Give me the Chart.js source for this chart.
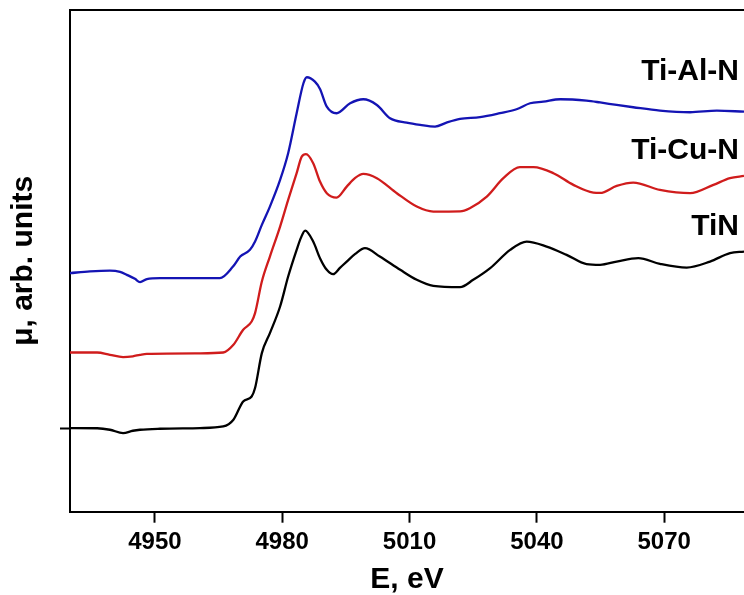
<!DOCTYPE html>
<html>
<head>
<meta charset="utf-8">
<script src="https://cdn.jsdelivr.net/npm/chart.js@4/dist/chart.umd.min.js"></script>
<style>
  html, body { margin: 0; padding: 0; background: #fff; }
  #wrap { width: 744px; height: 595px; }
</style>
</head>
<body>
<div id="wrap"><canvas id="xanes" width="744" height="595"></canvas></div>
<script>
// --- data (E in eV, mu in arb. units incl. vertical offset) ---
const tinEnergy = [4930, 4936.4, 4939.4, 4942.5, 4944.8, 4946.5, 4951.2, 4960.6, 4966.1, 4968.5,
  4970.8, 4972.8, 4973.6, 4975.2, 4977.1, 4979.5, 4981.4, 4983.4, 4984.4, 4985.4,
  4987.3, 4988.9, 4990.5, 4992.0, 4993.6, 4995.2, 4997.2, 4999.5, 5003.0, 5007.8,
  5011.7, 5015.6, 5021.9, 5025.0, 5029.0, 5033.7, 5037.6, 5042.3, 5047.0, 5051.7,
  5054.9, 5058.8, 5063.9, 5069.0, 5075.3, 5080.8, 5085.5, 5088.8];
const tinMu = [0.007, 0.005, -0.01, -0.043, -0.02, -0.01, 0, 0.007, 0.023, 0.09,
  0.273, 0.323, 0.407, 0.757, 0.957, 1.223, 1.523, 1.79, 1.91, 1.983,
  1.873, 1.707, 1.59, 1.547, 1.61, 1.673, 1.75, 1.807, 1.723, 1.59,
  1.49, 1.43, 1.417, 1.49, 1.607, 1.79, 1.873, 1.823, 1.74, 1.647,
  1.64, 1.673, 1.707, 1.65, 1.613, 1.673, 1.757, 1.773];

const ticuEnergy = [4930, 4936.4, 4939.4, 4942.5, 4944.8, 4946.5, 4948.1, 4960.6, 4966.1, 4968.5,
  4970.8, 4972.8, 4973.6, 4975.2, 4977.1, 4979.5, 4981.4, 4983.4, 4984.6, 4985.6,
  4987.3, 4988.9, 4990.5, 4992.8, 4995.2, 4997.2, 4999.1, 5002.3, 5007.0, 5011.7,
  5015.6, 5021.9, 5024.2, 5028.2, 5032.1, 5036.0, 5039.2, 5043.9, 5048.6, 5053.3,
  5054.9, 5058.8, 5062.7, 5069.0, 5076.1, 5081.6, 5085.5, 5088.8];
const ticuMu = [0.763, 0.763, 0.74, 0.717, 0.725, 0.74, 0.75, 0.755, 0.763, 0.84,
  0.99, 1.073, 1.157, 1.473, 1.723, 2.023, 2.29, 2.557, 2.723, 2.747,
  2.657, 2.473, 2.357, 2.313, 2.423, 2.51, 2.55, 2.507, 2.357, 2.223,
  2.173, 2.175, 2.207, 2.323, 2.507, 2.617, 2.617, 2.557, 2.44, 2.363,
  2.36, 2.43, 2.463, 2.39, 2.357, 2.44, 2.507, 2.53];

const tialEnergy = [4930, 4934.7, 4939.4, 4941.8, 4943.4, 4945.3, 4946.5, 4948.1, 4951.2, 4960.6,
  4965.3, 4968.4, 4970.1, 4972.4, 4973.6, 4975.2, 4977.1, 4979.5, 4981.4, 4983.4,
  4985.0, 4985.8, 4987.7, 4988.9, 4990.5, 4992.8, 4996.0, 4999.1, 5002.3, 5005.4,
  5009.3, 5012.5, 5016.0, 5018.7, 5021.9, 5026.6, 5031.3, 5035.2, 5038.4, 5041.5,
  5045.5, 5051.7, 5054.9, 5058.8, 5062.7, 5069.0, 5076.1, 5082.4, 5088.8];
const tialMu = [1.557, 1.575, 1.583, 1.57, 1.54, 1.5, 1.467, 1.497, 1.507, 1.507,
  1.507, 1.623, 1.723, 1.79, 1.873, 2.04, 2.223, 2.49, 2.757, 3.157,
  3.457, 3.517, 3.473, 3.4, 3.223, 3.157, 3.257, 3.297, 3.24, 3.107,
  3.063, 3.04, 3.023, 3.063, 3.1, 3.117, 3.157, 3.197, 3.257, 3.273,
  3.297, 3.283, 3.265, 3.24, 3.217, 3.183, 3.167, 3.183, 3.173];

const xTicks = [4950, 4980, 5010, 5040, 5070];
const yTicks = [0];
const seriesNames = ['Ti-Al-N', 'Ti-Cu-N', 'TiN'];
const labelLevels = [3.49, 2.70, 1.94];   // where the names sit (mu units)

const FONT = '"Liberation Sans", Arial, sans-serif';

function pts(xs, ys) {
  return xs.map((x, i) => ({ x: x, y: ys[i] }));
}

// names drawn at the right end of each curve
const seriesLabels = {
  id: 'seriesLabels',
  afterDatasetsDraw(chart) {
    const { ctx, chartArea, scales } = chart;
    ctx.save();
    ctx.font = 'bold 30px ' + FONT;
    ctx.fillStyle = '#000';
    ctx.textAlign = 'right';
    ctx.textBaseline = 'alphabetic';
    seriesNames.forEach((name, i) => {
      ctx.fillText(name, chartArea.right - 5, scales.y.getPixelForValue(labelLevels[i]));
    });
    ctx.restore();
  }
};

const lineStyle = { borderWidth: 2.3, pointRadius: 0, cubicInterpolationMode: 'monotone', fill: false };

new Chart(document.getElementById('xanes'), {
  type: 'line',
  data: {
    datasets: [
      { label: 'TiN', data: pts(tinEnergy, tinMu), borderColor: '#000000', ...lineStyle },
      { label: 'Ti-Cu-N', data: pts(ticuEnergy, ticuMu), borderColor: '#d01c1c', ...lineStyle },
      { label: 'Ti-Al-N', data: pts(tialEnergy, tialMu), borderColor: '#1414b4', ...lineStyle }
    ]
  },
  options: {
    responsive: false,
    animation: false,
    devicePixelRatio: 1,
    layout: { padding: { left: 0, right: 0, top: 10, bottom: 0 } },
    plugins: { legend: { display: false }, tooltip: { enabled: false } },
    scales: {
      x: {
        type: 'linear',
        position: 'bottom',
        min: 4930,
        max: 5088.8,
        afterBuildTicks: s => { s.ticks = xTicks.map(v => ({ value: v })); },
        ticks: {
          color: '#000', padding: 5,
          font: { family: FONT, size: 24, weight: 'bold' },
          callback: v => String(v)
        },
        grid: { display: true, drawOnChartArea: false, drawTicks: true, tickLength: 11, tickWidth: 2, tickColor: '#000' },
        border: { display: true, color: '#000', width: 2 },
        title: {
          display: true, text: 'E, eV', color: '#000',
          font: { family: FONT, size: 30, weight: 'bold', lineHeight: 1 },
          padding: { top: 3.5, bottom: 0 }
        }
      },
      x2: {
        type: 'linear',
        position: 'top',
        min: 4930,
        max: 5088.8,
        ticks: { display: false },
        grid: { display: true, drawOnChartArea: false, drawTicks: false },
        border: { display: true, color: '#000', width: 2 }
      },
      y: {
        type: 'linear',
        min: -0.83,
        max: 4.19,
        afterBuildTicks: s => { s.ticks = yTicks.map(v => ({ value: v })); },
        ticks: { display: false },
        grid: { display: true, drawOnChartArea: false, drawTicks: true, tickLength: 10, tickWidth: 2, tickColor: '#000' },
        border: { display: true, color: '#000', width: 2 },
        title: {
          display: true, text: 'μ, arb. units', color: '#000',
          font: { family: FONT, size: 30, weight: 'bold', lineHeight: 1 },
          padding: { top: 9, bottom: 21 }
        }
      }
    }
  },
  plugins: [seriesLabels]
});
</script>
</body>
</html>
